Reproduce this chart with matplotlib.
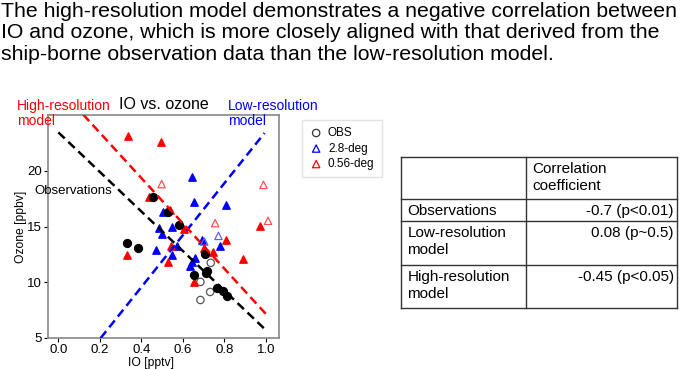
import matplotlib
matplotlib.use("Agg")
import matplotlib.pyplot as plt
import numpy as np

plt.rcParams['font.family'] = ['Liberation Sans', 'DejaVu Sans']

# observations (filled = used for the fit, open = excluded)
obs_x = [0.458, 0.531, 0.584, 0.330, 0.383, 0.707, 0.719, 0.713, 0.656, 0.767, 0.796, 0.812]
obs_y = [17.63, 16.26, 15.15, 13.53, 13.05, 12.57, 11.02, 10.85, 10.63, 9.46, 9.25, 8.80]
obs_open_x = [0.735, 0.685, 0.732, 0.685]
obs_open_y = [11.74, 10.03, 9.13, 8.41]

# 2.8-deg model (low resolution)
low_x = [0.643, 0.656, 0.807, 0.505, 0.487, 0.550, 0.502, 0.691, 0.780, 0.473, 0.571, 0.547, 0.659, 0.637, 0.645]
low_y = [19.43, 17.19, 16.92, 16.32, 14.85, 15.00, 14.34, 13.83, 13.26, 12.90, 13.26, 12.40, 12.19, 11.50, 11.85]
low_open_x = [0.704, 0.772]
low_open_y = [13.65, 14.16]

# 0.56-deg model (high resolution)
high_x = [0.338, 0.497, 0.439, 0.540, 0.605, 0.542, 0.531, 0.331, 0.704, 0.748, 0.806, 0.889, 0.973, 0.656]
high_y = [23.08, 22.57, 17.63, 16.44, 14.82, 13.26, 11.83, 12.40, 13.11, 12.69, 13.80, 12.10, 15.06, 10.06]
high_open_x = [0.498, 0.756, 0.989, 1.011]
high_open_y = [18.80, 15.30, 18.74, 15.51]

# regression lines: (x start, x end, slope, intercept)
fit_obs = (0.0, 1.0, -17.72, 23.44)
fit_low = (0.204, 0.994, 23.27, 0.25)
fit_high = (0.12, 1.0, -20.3, 27.47)

xticks = [0.0, 0.2, 0.4, 0.6, 0.8, 1.0]
yticks = [5, 10, 15, 20]

table_rows = [["", "Correlation\ncoefficient"],
              ["Observations", "-0.7 (p<0.01)"],
              ["Low-resolution\nmodel", "0.08 (p~0.5)"],
              ["High-resolution\nmodel", "-0.45 (p<0.05)"]]

headline = ["The high-resolution model demonstrates a negative correlation between",
            "IO and ozone, which is more closely aligned with that derived from the",
            "ship-borne observation data than the low-resolution model."]

W, H = 685, 369
fig = plt.figure(figsize=(W / 100, H / 100), dpi=100)

ax = fig.add_axes([48 / W, 1 - 338 / H, (279 - 48) / W, (338 - 115) / H])
ax.set_xlim(-0.05, 1.064)
ax.set_ylim(5, 25)

ms = 28
ax.scatter(obs_open_x, obs_open_y, s=ms, facecolors='none', edgecolors='#555555', linewidths=0.9, zorder=3)
ax.scatter(low_x, low_y, s=ms, marker='^', color='blue', zorder=3)
ax.scatter(low_open_x, low_open_y, s=ms, marker='^', facecolors='none', edgecolors='#6060ff', linewidths=0.9, zorder=3)
ax.scatter(high_x, high_y, s=ms, marker='^', color='red', zorder=3)
ax.scatter(high_open_x, high_open_y, s=ms, marker='^', facecolors='none', edgecolors='#ff5050', linewidths=0.9, zorder=3)
ax.scatter(obs_x, obs_y, s=ms + 4, color='black', zorder=4)

# legend proxies
ax.scatter([], [], s=ms, facecolors='none', edgecolors='#333333', linewidths=0.9, label='OBS')
ax.scatter([], [], s=ms, marker='^', facecolors='none', edgecolors='blue', linewidths=0.9, label='2.8-deg')
ax.scatter([], [], s=ms, marker='^', facecolors='none', edgecolors='red', linewidths=0.9, label='0.56-deg')

for (x0, x1, m, b), c in [(fit_obs, 'black'), (fit_low, 'blue'), (fit_high, 'red')]:
    xx = np.array([x0, x1])
    ax.plot(xx, m * xx + b, color=c, lw=1.8, ls=(0, (3.5, 2)), zorder=5)

ax.set_xticks(xticks)
ax.set_yticks(yticks)
ax.set_xticklabels(['%.1f' % t for t in xticks])
ax.tick_params(labelsize=9.5, length=3, width=0.8, pad=1.5)
ax.set_xlabel('IO [pptv]', fontsize=8.7)
ax.set_ylabel('Ozone [ppbv]', fontsize=8.7)
ax.xaxis.set_label_coords(0.444, -0.085)
ax.yaxis.set_label_coords(-0.09, 0.5)
for sp in ax.spines.values():
    sp.set_color('#888888')
    sp.set_linewidth(1.2)

ax.text(0.5, 1.045, 'IO vs. ozone', transform=ax.transAxes, ha='center', va='center', fontsize=11.5)
ax.text(-0.135, 0.94, 'High-resolution\nmodel', transform=ax.transAxes, ha='left', va='bottom',
        fontsize=10, color='red', linespacing=1.1)
ax.text(0.778, 0.94, 'Low-resolution\nmodel', transform=ax.transAxes, ha='left', va='bottom',
        fontsize=10, color='blue', linespacing=1.1)
ax.text(-0.117, 18.2, 'Observations', ha='left', va='center', fontsize=9.5, clip_on=False, zorder=6)

ax.legend(loc='upper left', bbox_to_anchor=(302 / W, 1 - 120 / H), bbox_transform=fig.transFigure,
          fontsize=8.5, frameon=True, fancybox=False, edgecolor='#dddddd', handletextpad=0.4,
          labelspacing=0.3, borderpad=0.6, handlelength=1.2, borderaxespad=0)

# overlay in pixel coordinates for headline and table
ov = fig.add_axes([0, 0, 1, 1])
ov.set_xlim(0, W)
ov.set_ylim(H, 0)
ov.axis('off')

for i, line in enumerate(headline):
    ov.text(1, 17 + i * 21.5, line, fontsize=15.3, va='baseline', ha='left')

tx0, tx1, tcol = 401.5, 677, 526
row_edges = [157.3, 199.3, 221, 265.3, 307.7]
for y in row_edges:
    ov.plot([tx0, tx1], [y, y], color='#333333', lw=1.0)
for x in [tx0, tcol, tx1]:
    ov.plot([x, x], [row_edges[0], row_edges[-1]], color='#333333', lw=1.0)

for r, (left, right) in enumerate(table_rows):
    ytop = row_edges[r] + 5
    if left:
        ov.text(tx0 + 6, ytop, left, fontsize=11, va='top', ha='left', linespacing=1.25)
    if r == 0:
        ov.text(tcol + 6, ytop, right, fontsize=11, va='top', ha='left', linespacing=1.25)
    else:
        ov.text(tx1 - 3, ytop, right, fontsize=11, va='top', ha='right')

fig.savefig('out.png', dpi=100)
